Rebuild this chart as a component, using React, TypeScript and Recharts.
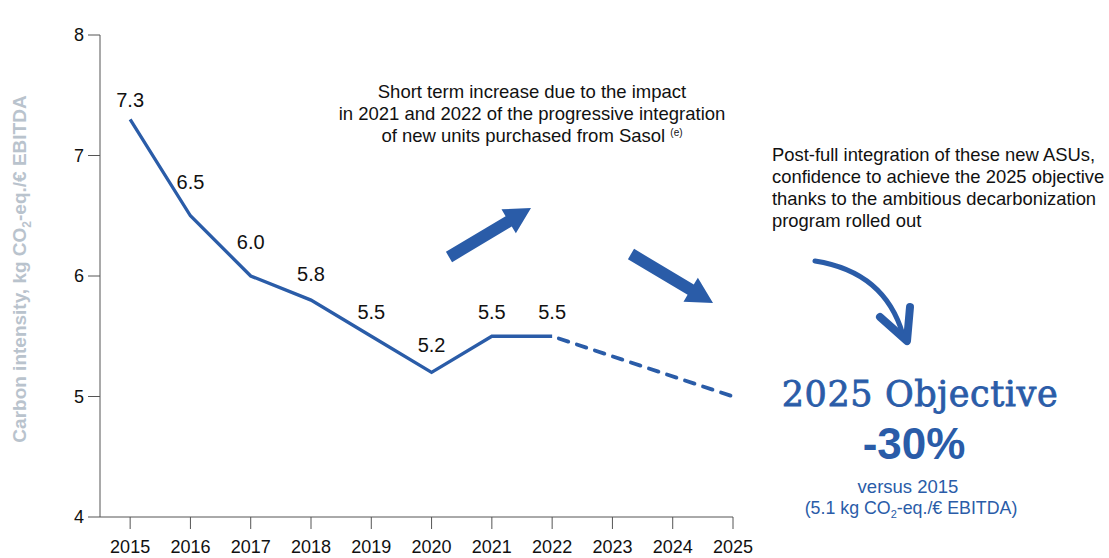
import React from "react";
import { LineChart, Line, XAxis, YAxis, LabelList } from "recharts";

const years = [2015, 2016, 2017, 2018, 2019, 2020, 2021, 2022, 2023, 2024, 2025];
const actual: (number | null)[] = [7.3, 6.5, 6.0, 5.8, 5.5, 5.2, 5.5, 5.5, null, null, null];
const target: (number | null)[] = [null, null, null, null, null, null, null, 5.5, null, null, 5.0];
const yTicks = [4, 5, 6, 7, 8];

const BLUE = "#2a5ca8";
const FONT = "'Liberation Sans', Arial, sans-serif";

// nudges for the value labels so they sit like in the original
const labelLift = [18, 32, 32, 24, 23, 26, 23, 23];

function arrow(x1: number, y1: number, x2: number, y2: number, sw: number, hw: number, hl: number) {
  const dx = x2 - x1;
  const dy = y2 - y1;
  const len = Math.hypot(dx, dy);
  const ux = dx / len, uy = dy / len;
  const nx = -uy, ny = ux;
  const bx = x2 - ux * hl, by = y2 - uy * hl;
  const pts = [
    [x1 + nx * sw, y1 + ny * sw],
    [bx + nx * sw, by + ny * sw],
    [bx + nx * hw, by + ny * hw],
    [x2, y2],
    [bx - nx * hw, by - ny * hw],
    [bx - nx * sw, by - ny * sw],
    [x1 - nx * sw, y1 - ny * sw],
  ];
  return pts.map((p) => p.join(",")).join(" ");
}

const ValueLabel = (props: any) => {
  const { x, y, value, index } = props;
  if (value == null) return null;
  const lift = labelLift[index] ?? 24;
  return (
    <text x={x} y={y - lift} textAnchor="middle" dominantBaseline="middle" fontSize={20} fill="#111" fontFamily={FONT}>
      {Number(value).toFixed(1)}
    </text>
  );
};

export default function App() {
  const data = years.map((year, i) => ({ year, actual: actual[i], target: target[i] }));

  return (
    <div style={{ position: "absolute", left: 0, top: 0, width: 1109, height: 558, background: "#fff", fontFamily: FONT }}>
      <LineChart width={1109} height={558} data={data} margin={{ top: 35, right: 376, bottom: 11, left: 40 }}>
        <XAxis
          dataKey="year"
          type="number"
          domain={[2014.5, 2025]}
          ticks={years}
          allowDataOverflow
          height={30}
          tickSize={12}
          tickMargin={11}
          stroke="#555"
          tick={{ fontSize: 18, fill: "#111", fontFamily: FONT }}
        />
        <YAxis
          type="number"
          domain={[4, 8]}
          ticks={yTicks}
          width={60}
          tickSize={12}
          tickMargin={4}
          stroke="#555"
          tick={{ fontSize: 18, fill: "#111", fontFamily: FONT }}
        />
        <Line
          dataKey="actual"
          stroke={BLUE}
          strokeWidth={3.3}
          dot={false}
          isAnimationActive={false}
        >
          <LabelList dataKey="actual" content={ValueLabel} />
        </Line>
        <Line
          dataKey="target"
          stroke={BLUE}
          strokeWidth={3.8}
          strokeDasharray="10 9"
          strokeDashoffset={12}
          strokeLinecap="round"
          dot={false}
          connectNulls
          isAnimationActive={false}
        />
      </LineChart>

      <svg width={1109} height={558} style={{ position: "absolute", left: 0, top: 0, pointerEvents: "none" }}>
        <text
          transform="translate(26,269) rotate(-90)"
          textAnchor="middle"
          fontSize={19}
          fontWeight="bold"
          fill="#b9c3cd"
          fontFamily={FONT}
        >
          Carbon intensity, kg CO<tspan fontSize={12} dy={5}>2</tspan>
          <tspan dy={-5}>-eq./€ EBITDA</tspan>
        </text>
        <polygon points={arrow(449, 257, 531, 208, 6, 14, 26)} fill={BLUE} />
        <polygon points={arrow(631, 254, 713, 303, 6, 14, 26)} fill={BLUE} />
        <path d="M815,261 Q885,272 903,335" stroke={BLUE} strokeWidth={5} fill="none" strokeLinecap="round" />
        <path d="M880,317 L907,341 L910,307" stroke={BLUE} strokeWidth={8} fill="none" strokeLinecap="round" strokeLinejoin="round" />
      </svg>

      <div style={{ position: "absolute", left: 282, top: 81, width: 500, textAlign: "center", fontSize: 18.5, lineHeight: "22px", color: "#111" }}>
        Short term increase due to the impact<br />
        in 2021 and 2022 of the progressive integration<br />
        of new units purchased from Sasol <sup style={{ fontSize: 10, verticalAlign: 6, lineHeight: 0 }}>(e)</sup>
      </div>

      <div style={{ position: "absolute", left: 772, top: 144, width: 340, fontSize: 18.4, lineHeight: "22px", color: "#111", whiteSpace: "nowrap" }}>
        Post-full integration of these new ASUs,<br />
        confidence to achieve the 2025 objective<br />
        thanks to the ambitious decarbonization<br />
        program rolled out
      </div>

      <div style={{ position: "absolute", left: 720, top: 0, width: 400, textAlign: "center", color: BLUE }}>
        <div style={{ position: "absolute", left: 0, top: 374, width: 400, fontFamily: "'DejaVu Serif', serif", fontSize: 35, letterSpacing: 0.6, lineHeight: "40px", WebkitTextStroke: "0.8px " + BLUE }}>2025 Objective</div>
        <div style={{ position: "absolute", left: -6, top: 419, width: 400, fontWeight: "bold", fontSize: 44, lineHeight: "50px" }}>-30%</div>
        <div style={{ position: "absolute", left: -12, top: 476, width: 400, fontSize: 18.5, lineHeight: "22px" }}>versus 2015</div>
        <div style={{ position: "absolute", left: -9, top: 497, width: 400, fontSize: 17.8, lineHeight: "22px" }}>
          (5.1 kg CO<sub style={{ fontSize: 11, verticalAlign: -4, lineHeight: 0 }}>2</sub>-eq./€ EBITDA)
        </div>
      </div>
    </div>
  );
}
